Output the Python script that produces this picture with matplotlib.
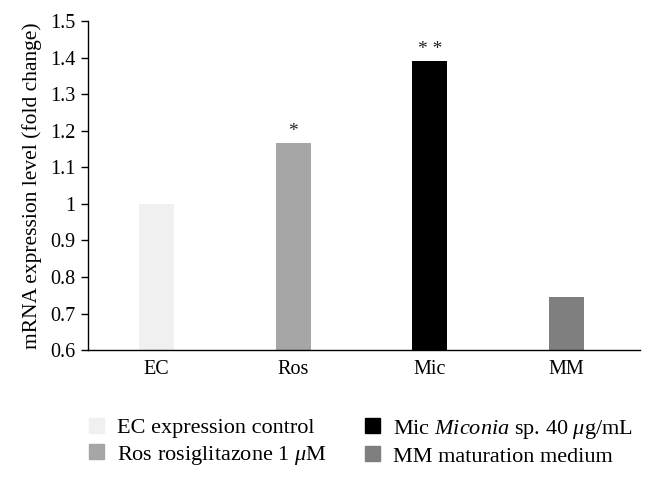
import matplotlib
matplotlib.use("Agg")
import matplotlib.pyplot as plt

plt.rcParams['font.family'] = ['Liberation Serif', 'DejaVu Serif']
plt.rcParams['mathtext.fontset'] = 'custom'
plt.rcParams['mathtext.rm'] = 'Liberation Serif'
plt.rcParams['mathtext.it'] = 'Liberation Serif:italic'

categories = ["EC", "Ros", "Mic", "MM"]
values = [1.0, 1.167, 1.392, 0.745]
colors = ["#f0f0f0", "#a6a6a6", "#000000", "#7f7f7f"]
significance = ["", "*", "**", ""]
legend_labels = [
    "EC expression control",
    "Ros rosiglitazone 1 $\\mu$M",
    "Mic $\\mathit{Miconia}$ sp. 40 $\\mu$g/mL",
    "MM maturation medium",
]
yticks = [0.6, 0.7, 0.8, 0.9, 1.0, 1.1, 1.2, 1.3, 1.4, 1.5]
ytick_labels = ["0.6", "0.7", "0.8", "0.9", "1", "1.1", "1.2", "1.3", "1.4", "1.5"]

fig = plt.figure(figsize=(6.48, 4.79), dpi=100)
ax = fig.add_axes([0.136, 0.269, 0.852, 0.687])

x = list(range(len(categories)))
ax.bar(x, [v - 0.6 for v in values], bottom=0.6, width=0.256, color=colors)

for xi, v, s in zip(x, values, significance):
    if s:
        ax.text(xi, v + 0.008, " ".join(s) if len(s) > 1 else s,
                ha="center", va="bottom", fontsize=14, color="#222222")

ax.set_ylim(0.6, 1.5)
ax.set_xlim(-0.5, 3.54)
ax.set_yticks(yticks)
ax.set_yticklabels(ytick_labels, fontsize=14.5)
ax.set_xticks(x)
ax.set_xticklabels(categories, fontsize=14.5)
ax.tick_params(axis="x", length=0, pad=7)
ax.tick_params(axis="y", direction="out", length=5, width=1, pad=4)
ax.spines["top"].set_visible(False)
ax.spines["right"].set_visible(False)
ax.spines["left"].set_linewidth(1.0)
ax.spines["bottom"].set_linewidth(1.0)
ax.set_ylabel("mRNA expression level (fold change)", fontsize=15.5, labelpad=6)

handles = [plt.Rectangle((0, 0), 1, 1, color=c) for c in colors]
common = dict(loc="center left", frameon=False, fontsize=16,
              handlelength=0.68, handleheight=0.68, handletextpad=0.6,
              labelspacing=0.25, borderaxespad=0, borderpad=0)
fig.legend(handles[:2], legend_labels[:2], bbox_to_anchor=(89 / 648, 0.077), **common)
fig.legend(handles[2:], legend_labels[2:], bbox_to_anchor=(365 / 648, 0.077), **common)

fig.savefig("out.png", dpi=100)
